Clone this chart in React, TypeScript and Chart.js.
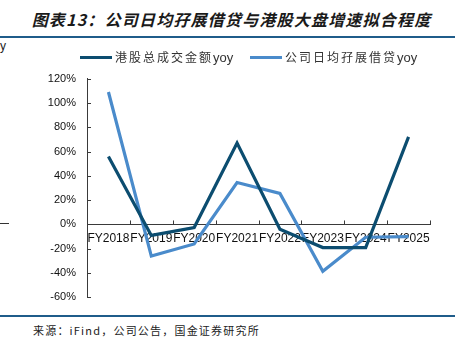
import React, { useEffect, useRef } from "react";
import { Chart, registerables } from "chart.js";

Chart.register(...registerables);

const categories = ["FY2018", "FY2019", "FY2020", "FY2021", "FY2022", "FY2023", "FY2024", "FY2025"];
const turnoverYoy = [56, -9, -2.5, 67, -4, -19, -19, 72];
const marginYoy = [109, -26, -16, 34.5, 25.5, -38.5, -10.5, -10];
const seriesNames = ["港股总成交金额yoy", "公司日均孖展借贷yoy"];
const yTicks = [-60, -40, -20, 0, 20, 40, 60, 80, 100, 120];

const DARK = "#0c4d70";
const LIGHT = "#4a8bcb";
const AXIS = "#3a3a3a";

const innerTicks = {
  id: "innerTicks",
  afterDraw(chart: any) {
    const ctx = chart.ctx;
    const x = chart.scales.x;
    const y = chart.scales.y;
    const area = chart.chartArea;
    const zeroY = y.getPixelForValue(0);
    ctx.save();
    ctx.strokeStyle = AXIS;
    ctx.lineWidth = 1;
    ctx.beginPath();
    for (let i = 0; i <= categories.length; i++) {
      const px = Math.round(x.getPixelForValue(i - 0.5)) + 0.5;
      ctx.moveTo(px, zeroY);
      ctx.lineTo(px, zeroY - 4);
    }
    for (const v of yTicks) {
      const py = Math.round(y.getPixelForValue(v)) + 0.5;
      ctx.moveTo(area.left, py);
      ctx.lineTo(area.left + 4, py);
    }
    ctx.stroke();
    ctx.restore();
  },
};

export default function App() {
  const ref = useRef<HTMLCanvasElement | null>(null);

  useEffect(() => {
    document.body.style.margin = "0";
    if (!ref.current) return;
    const chart = new Chart(ref.current, {
      type: "line",
      data: {
        labels: categories,
        datasets: [
          {
            label: seriesNames[0],
            data: turnoverYoy,
            borderColor: DARK,
            backgroundColor: DARK,
            borderWidth: 3.2,
            pointRadius: 0,
            tension: 0,
            order: 1,
          },
          {
            label: seriesNames[1],
            data: marginYoy,
            borderColor: LIGHT,
            backgroundColor: LIGHT,
            borderWidth: 3.2,
            pointRadius: 0,
            tension: 0,
            order: 2,
          },
        ],
      },
      options: {
        responsive: false,
        animation: false,
        layout: { padding: { top: 0, bottom: 0, left: 0, right: 33 } },
        plugins: { legend: { display: false }, tooltip: { enabled: false } },
        scales: {
          x: {
            type: "category",
            position: { y: 0 },
            offset: true,
            z: 1,
            grid: { display: false, drawTicks: false },
            border: { display: true, color: AXIS, width: 1 },
            ticks: {
              padding: 7,
              color: "#111",
              maxRotation: 0,
              autoSkip: false,
              font: { family: "'Liberation Sans', Arial, sans-serif", size: 12 },
            },
          },
          y: {
            min: -60,
            max: 120,
            afterFit: (s: any) => {
              s.width = 87;
            },
            afterBuildTicks: (s: any) => {
              s.ticks = yTicks.map((v) => ({ value: v }));
            },
            grid: { display: false, drawTicks: false },
            border: { display: true, color: AXIS, width: 1 },
            ticks: {
              padding: 11,
              color: "#111",
              callback: (v: any) => `${v}%`,
              font: { family: "'Liberation Sans', Arial, sans-serif", size: 11 },
            },
          },
        },
      },
      plugins: [innerTicks],
    });
    return () => chart.destroy();
  }, []);

  const cjk = "'Noto Sans CJK SC', 'Liberation Sans', sans-serif";

  return (
    <div style={{ position: "relative", width: 463, height: 357, background: "#fff", overflow: "hidden" }}>
      <div
        style={{
          position: "absolute",
          left: 0,
          width: 463,
          top: 8,
          textAlign: "center",
          fontFamily: cjk,
          fontWeight: 700,
          fontStyle: "italic",
          fontSize: 16,
          letterSpacing: 1.2,
          color: "#1a1a1a",
          lineHeight: "22px",
        }}
      >
        图表13：公司日均孖展借贷与港股大盘增速拟合程度
      </div>
      <div style={{ position: "absolute", left: 0, top: 36, width: 455, height: 2, background: "#1f5c8a" }} />
      <div
        style={{
          position: "absolute",
          left: 0,
          top: 39,
          fontFamily: "'Liberation Sans', Arial, sans-serif",
          fontSize: 12,
          color: "#222",
          lineHeight: "14px",
        }}
      >
        y
      </div>
      <div style={{ position: "absolute", left: 0, top: 223, width: 9, height: 1, background: "#333" }} />

      <canvas
        ref={ref}
        width={463}
        height={254}
        style={{ position: "absolute", left: 0, top: 61, width: 463, height: 254 }}
      />

      {/* legend */}
      <div style={{ position: "absolute", left: 80, top: 56, width: 32, height: 3, background: DARK }} />
      <div
        style={{
          position: "absolute",
          left: 115,
          top: 48,
          fontFamily: cjk,
          fontSize: 12,
          letterSpacing: 2,
          color: "#333",
          lineHeight: "18px",
          whiteSpace: "nowrap",
        }}
      >
        港股总成交金额<span style={{ letterSpacing: 0, fontFamily: "'Liberation Sans', Arial, sans-serif", fontSize: 13 }}>yoy</span>
      </div>
      <div style={{ position: "absolute", left: 250, top: 56, width: 32, height: 3, background: LIGHT }} />
      <div
        style={{
          position: "absolute",
          left: 285,
          top: 48,
          fontFamily: cjk,
          fontSize: 12,
          letterSpacing: 2,
          color: "#333",
          lineHeight: "18px",
          whiteSpace: "nowrap",
        }}
      >
        公司日均孖展借贷<span style={{ letterSpacing: 0, fontFamily: "'Liberation Sans', Arial, sans-serif", fontSize: 13 }}>yoy</span>
      </div>

      <div style={{ position: "absolute", left: 0, top: 315, width: 455, height: 2, background: "#1f5c8a" }} />
      <div
        style={{
          position: "absolute",
          left: 33,
          top: 322,
          fontFamily: cjk,
          fontSize: 11,
          letterSpacing: 1.2,
          color: "#222",
          lineHeight: "16px",
          whiteSpace: "nowrap",
        }}
      >
        来源：iFind，公司公告，国金证券研究所
      </div>
    </div>
  );
}
